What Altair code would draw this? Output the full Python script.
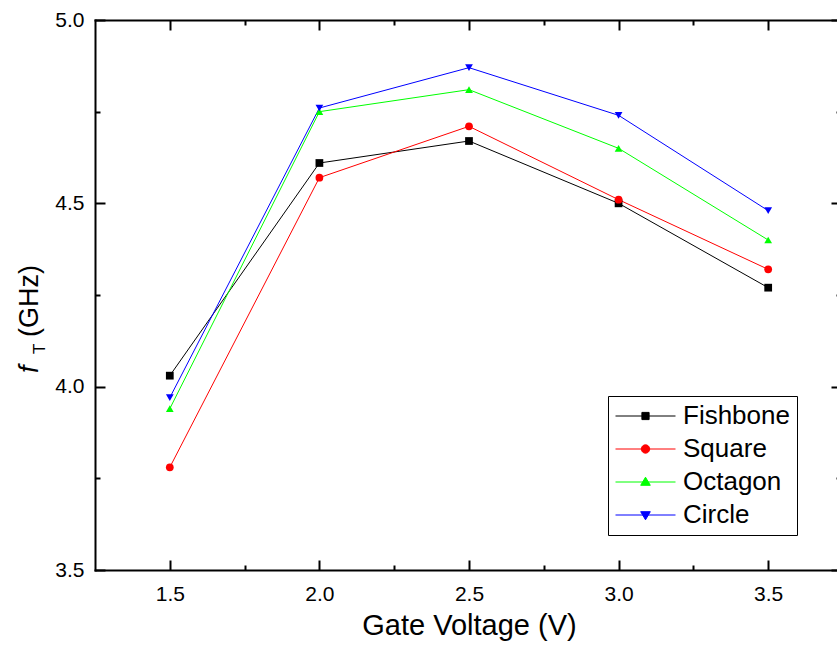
import altair as alt
import pandas as pd

# ---- data ----
gate_voltage = [1.5, 2.0, 2.5, 3.0, 3.5]
fishbone = [4.03, 4.61, 4.67, 4.50, 4.27]
square = [3.78, 4.57, 4.71, 4.51, 4.32]
octagon = [3.94, 4.75, 4.81, 4.65, 4.40]
circle = [3.97, 4.76, 4.87, 4.74, 4.48]

series_names = ["Fishbone", "Square", "Octagon", "Circle"]
series_colors = ["#000000", "#FF0000", "#00FF00", "#0000FF"]
marker_shapes = ["square", "circle", "triangle-up", "triangle-down"]
# legend symbols: a line segment with the marker in its middle
legend_shapes = [
    "M-1,0L1,0M-0.12,-0.12L0.12,-0.12L0.12,0.12L-0.12,0.12Z",
    "M-1,0L1,0M0.14,0A0.14,0.14,0,1,1,-0.14,0A0.14,0.14,0,1,1,0.14,0Z",
    "M-1,0L1,0M0,-0.16L0.16,0.11L-0.16,0.11Z",
    "M-1,0L1,0M0,0.16L0.16,-0.11L-0.16,-0.11Z",
]

x_major = [1.5, 2.0, 2.5, 3.0, 3.5]
x_minor = [1.75, 2.25, 2.75, 3.25]
y_major = [3.5, 4.0, 4.5, 5.0]
y_minor = [3.75, 4.25, 4.75]
x_title = "Gate Voltage (V)"
y_title_parts = ["f", "T", "(GHz)"]

rows = []
for name, vals in zip(series_names, [fishbone, square, octagon, circle]):
    for v, f in zip(gate_voltage, vals):
        rows.append({"series": name, "voltage": v, "ft": f})
df = pd.DataFrame(rows)

FONT = "Liberation Sans"
x_scale = alt.Scale(domain=[1.25, 3.73], nice=False, zero=False)
y_scale = alt.Scale(domain=[3.5, 5.0], nice=False, zero=False)
color_scale = alt.Scale(domain=series_names, range=series_colors)


def axis(orient, values=None, tick=0, offset=0, labels=False, domain=False, **extra):
    kw = dict(orient=orient, offset=offset, grid=False, labels=labels, domain=domain,
              ticks=tick > 0, title=None, tickColor="black", tickWidth=2,
              domainColor="black", domainWidth=2, domainCap="square",
              labelFont=FONT, labelFontSize=21, labelColor="black",
              labelFlush=False, labelOverlap=False, format=".1f")
    if values is not None:
        kw["values"] = values
    if tick > 0:
        kw["tickSize"] = tick
    kw.update(extra)
    return alt.Axis(**kw)


def enc(xax, yax):
    return dict(
        x=alt.X("voltage:Q", scale=x_scale, axis=xax),
        y=alt.Y("ft:Q", scale=y_scale, axis=yax),
    )


bottom_major = axis("bottom", x_major, 10, -10, labels=True, labelPadding=13)
bottom_minor = axis("bottom", x_minor, 5, -5)
top_major = axis("top", x_major, 10, -10)
top_minor = axis("top", x_minor, 5, -5)
bottom_frame = axis("bottom", domain=True, title=x_title, titleFont=FONT,
                    titleFontSize=29, titleFontWeight="normal", titleColor="black",
                    titleBaseline="top", titleY=41, titleX=374, titleAlign="center")
top_frame = axis("top", domain=True)

left_major = axis("left", y_major, 10, -10, labels=True, labelPadding=11)
left_minor = axis("left", y_minor, 5, -5)
right_major = axis("right", y_major, 10, -6)
right_minor = axis("right", y_minor, 5, -1)
left_frame = axis("left", domain=True)

lines = alt.Chart(df).mark_line(strokeWidth=1).encode(
    **enc(bottom_major, left_major),
    color=alt.Color("series:N", scale=color_scale, legend=None),
)

points = alt.Chart(df).mark_point(filled=True, size=60, opacity=1).encode(
    **enc(bottom_minor, left_minor),
    color=alt.Color("series:N", scale=color_scale, legend=None),
    shape=alt.Shape("series:N", scale=alt.Scale(domain=series_names, range=marker_shapes),
                    legend=None),
)

ticks_major = alt.Chart(df).transform_filter("false").mark_point(opacity=0).encode(
    **enc(top_major, right_major))
ticks_minor = alt.Chart(df).transform_filter("false").mark_point(opacity=0).encode(
    **enc(top_minor, right_minor))
frame = alt.Chart(df).transform_filter("false").mark_point(opacity=0).encode(
    **enc(bottom_frame, left_frame))

legend = alt.Legend(
    title=None, orient="none", legendX=513, legendY=376, direction="vertical",
    labelFont=FONT, labelFontSize=26, labelColor="black", labelOffset=7,
    symbolSize=3600, symbolStrokeWidth=1, symbolOpacity=1, symbolOffset=0,
    clipHeight=26, rowPadding=7, padding=7, strokeColor="black", fillColor="white",
)
legend_layer = alt.Chart(df).transform_filter("false").mark_point(
    filled=True, size=3600, opacity=1, strokeWidth=1).encode(
    **enc(top_frame, None),
    color=alt.Color("series:N", scale=color_scale, legend=legend),
    stroke=alt.Stroke("series:N", scale=color_scale, legend=legend),
    shape=alt.Shape("series:N", scale=alt.Scale(domain=series_names, range=legend_shapes),
                    legend=legend),
)

one = alt.Data(values=[{"k": 0}])
t_f = alt.Chart(one).mark_text(
    text=y_title_parts[0], font=FONT, fontSize=27, fontStyle="italic", angle=270,
    align="left", baseline="alphabetic", color="black").encode(
    x=alt.value(-57), y=alt.value(353))
t_T = alt.Chart(one).mark_text(
    text=y_title_parts[1], font=FONT, fontSize=17, angle=270,
    align="left", baseline="alphabetic", color="black").encode(
    x=alt.value(-50), y=alt.value(334))
t_g = alt.Chart(one).mark_text(
    text=y_title_parts[2], font=FONT, fontSize=27, angle=270,
    align="left", baseline="alphabetic", color="black").encode(
    x=alt.value(-57), y=alt.value(317))

chart = alt.layer(
    lines, points, ticks_major, ticks_minor, frame, legend_layer, t_f, t_T, t_g
).resolve_axis(
    x="independent", y="independent"
).resolve_scale(
    color="independent", shape="independent", stroke="independent"
).properties(
    width=742, height=550,
    autosize=alt.AutoSizeParams(type="none"),
    padding={"left": 95, "top": 20, "right": 0, "bottom": 78},
    background="white",
).configure_view(stroke=None)

chart.save("out.html", embed_options={"renderer": "svg", "actions": False})
